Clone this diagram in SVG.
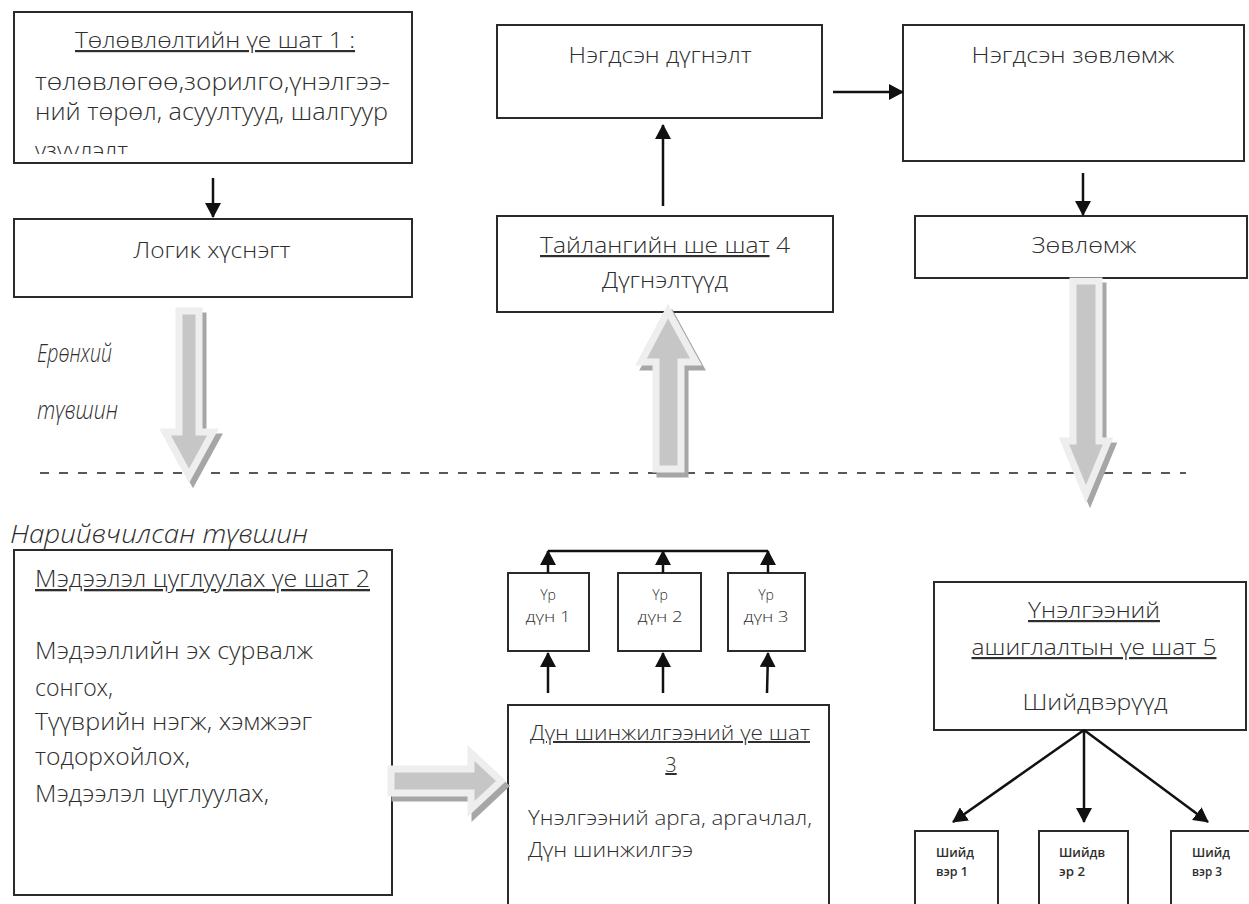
<svg xmlns="http://www.w3.org/2000/svg" width="1249" height="904" viewBox="0 0 1249 904">
<style>
text{font-family:"Open Sans","Noto Sans",sans-serif;fill:#2e2e2e;font-weight:300}
.box{fill:#fff;stroke:#2a2a2a;stroke-width:2}
.t22{font-size:22px}
.t23{font-size:23px}
.t20{font-size:20px}
.t14{font-size:14px}
.t13{font-size:13px;font-weight:600}
.it{font-size:25px;font-style:italic}
.u{text-decoration:underline}
.con{stroke:#111;stroke-width:2.5;fill:none}
.ar{marker-end:url(#ah)}
.blk{fill:#c6c6c6;stroke:#eeeeee;stroke-width:7;stroke-linejoin:miter}
.blkS{fill:#a6a6a6;stroke:#a6a6a6;stroke-width:7}
.dash{stroke:#222;stroke-width:1.5;stroke-dasharray:9 10}
</style>
<defs>
<marker id="ah" markerUnits="userSpaceOnUse" markerWidth="15" markerHeight="16" refX="14" refY="8" orient="auto">
<path d="M0,0 L15,8 L0,16 Z" fill="#111"/>
</marker>
<clipPath id="c1"><rect x="14" y="12" width="398" height="142"/></clipPath>
</defs>

<line class="dash" x1="40" y1="473" x2="1186" y2="473"/>

<g id="stage1">
<rect class="box" x="14" y="12" width="398" height="151"/>
<g clip-path="url(#c1)">
<text class="t22 u" x="215" y="48" text-anchor="middle" textLength="280" lengthAdjust="spacingAndGlyphs">Төлөвлөлтийн үе шат 1 :</text>
<text class="t23" x="35" y="90" textLength="355" lengthAdjust="spacingAndGlyphs">төлөвлөгөө,зорилго,үнэлгээ-</text>
<text class="t23" x="35" y="120" textLength="353" lengthAdjust="spacingAndGlyphs">ний төрөл, асуултууд, шалгуур</text>
<text class="t23" x="35" y="159" textLength="93" lengthAdjust="spacingAndGlyphs">үзүүлэлт</text>
</g>
</g>

<g id="logic">
<rect class="box" x="14" y="219" width="398" height="78"/>
<text class="t22" x="212" y="258" text-anchor="middle" textLength="157" lengthAdjust="spacingAndGlyphs">Логик хүснэгт</text>
</g>

<g id="summary">
<rect class="box" x="497" y="25" width="325" height="93"/>
<text class="t22" x="660" y="63" text-anchor="middle" textLength="183" lengthAdjust="spacingAndGlyphs">Нэгдсэн дүгнэлт</text>
</g>

<g id="stage4">
<rect class="box" x="497" y="216" width="336" height="96"/>
<text class="t22" x="540" y="253" textLength="250" lengthAdjust="spacingAndGlyphs"><tspan class="u">Тайлангийн ше шат</tspan> 4</text>
<text class="t22" x="665" y="288" text-anchor="middle" textLength="126" lengthAdjust="spacingAndGlyphs">Дүгнэлтүүд</text>
</g>

<g id="recsum">
<rect class="box" x="903" y="25" width="341" height="136"/>
<text class="t22" x="1073" y="63" text-anchor="middle" textLength="203" lengthAdjust="spacingAndGlyphs">Нэгдсэн зөвлөмж</text>
</g>

<g id="rec">
<rect class="box" x="915" y="216" width="332" height="62"/>
<text class="t22" x="1084" y="253" text-anchor="middle" textLength="105" lengthAdjust="spacingAndGlyphs">Зөвлөмж</text>
</g>

<g id="levels">
<text class="it" x="37" y="362" textLength="75" lengthAdjust="spacingAndGlyphs">Ерөнхий</text>
<text class="it" x="37" y="419" textLength="81" lengthAdjust="spacingAndGlyphs">түвшин</text>
<text class="it" x="10" y="543" textLength="298" lengthAdjust="spacingAndGlyphs">Нарийвчилсан түвшин</text>
</g>

<g id="stage2">
<rect class="box" x="14" y="550" width="378" height="345"/>
<text class="t23 u" x="35" y="587" textLength="335" lengthAdjust="spacingAndGlyphs">Мэдээлэл цуглуулах үе шат 2</text>
<text class="t23" x="35" y="659" textLength="278" lengthAdjust="spacingAndGlyphs">Мэдээллийн эх сурвалж</text>
<text class="t23" x="35" y="696" textLength="78" lengthAdjust="spacingAndGlyphs">сонгох,</text>
<text class="t23" x="35" y="730" textLength="277" lengthAdjust="spacingAndGlyphs">Түүврийн нэгж, хэмжээг</text>
<text class="t23" x="35" y="765" textLength="155" lengthAdjust="spacingAndGlyphs">тодорхойлох,</text>
<text class="t23" x="35" y="802" textLength="234" lengthAdjust="spacingAndGlyphs">Мэдээлэл цуглуулах,</text>
</g>

<g id="res1">
<rect class="box" x="508" y="573" width="81" height="78"/>
<text class="t14" x="548" y="600" text-anchor="middle">Үр</text>
<text class="t14" x="548" y="622" text-anchor="middle" textLength="45" lengthAdjust="spacingAndGlyphs">дүн 1</text>
</g>
<g id="res2">
<rect class="box" x="618" y="573" width="83" height="78"/>
<text class="t14" x="660" y="600" text-anchor="middle">Үр</text>
<text class="t14" x="660" y="622" text-anchor="middle" textLength="45" lengthAdjust="spacingAndGlyphs">дүн 2</text>
</g>
<g id="res3">
<rect class="box" x="728" y="573" width="77" height="78"/>
<text class="t14" x="766" y="600" text-anchor="middle">Үр</text>
<text class="t14" x="766" y="622" text-anchor="middle" textLength="45" lengthAdjust="spacingAndGlyphs">дүн 3</text>
</g>

<g id="stage3">
<rect class="box" x="508" y="705" width="321" height="215"/>
<text class="t20 u" x="670" y="740" text-anchor="middle" textLength="280" lengthAdjust="spacingAndGlyphs">Дүн шинжилгээний үе шат</text>
<text class="t20 u" x="671" y="772" text-anchor="middle">3</text>
<text class="t20" x="528" y="825" textLength="284" lengthAdjust="spacingAndGlyphs">Үнэлгээний арга, аргачлал,</text>
<text class="t20" x="528" y="857" textLength="165" lengthAdjust="spacingAndGlyphs">Дүн шинжилгээ</text>
</g>

<g id="stage5">
<rect class="box" x="934" y="582" width="312" height="148"/>
<text class="t22 u" x="1094" y="618" text-anchor="middle" textLength="132" lengthAdjust="spacingAndGlyphs">Үнэлгээний</text>
<text class="t22 u" x="1094" y="655" text-anchor="middle" textLength="245" lengthAdjust="spacingAndGlyphs">ашиглалтын үе шат 5</text>
<text class="t22" x="1095" y="710" text-anchor="middle" textLength="145" lengthAdjust="spacingAndGlyphs">Шийдвэрүүд</text>
</g>

<g id="dec1">
<rect class="box" x="915" y="831" width="83" height="90"/>
<text class="t13" x="936" y="857" textLength="38" lengthAdjust="spacingAndGlyphs">Шийд</text>
<text class="t13" x="936" y="876" textLength="32" lengthAdjust="spacingAndGlyphs">вэр 1</text>
</g>
<g id="dec2">
<rect class="box" x="1039" y="831" width="89" height="90"/>
<text class="t13" x="1059" y="857" textLength="46" lengthAdjust="spacingAndGlyphs">Шийдв</text>
<text class="t13" x="1059" y="876" textLength="26" lengthAdjust="spacingAndGlyphs">эр 2</text>
</g>
<g id="dec3">
<rect class="box" x="1171" y="831" width="90" height="90"/>
<text class="t13" x="1192" y="857" textLength="38" lengthAdjust="spacingAndGlyphs">Шийд</text>
<text class="t13" x="1192" y="876" textLength="30" lengthAdjust="spacingAndGlyphs">вэр 3</text>
</g>

<g id="connectors">
<line class="con ar" x1="213" y1="178" x2="213" y2="217"/>
<line class="con ar" x1="663" y1="206" x2="663" y2="125"/>
<line class="con ar" x1="833" y1="92" x2="903" y2="92"/>
<line class="con ar" x1="1083" y1="173" x2="1083" y2="215"/>
<line class="con" x1="548" y1="551" x2="768" y2="551"/>
<line class="con ar" x1="548" y1="573" x2="548" y2="551"/>
<line class="con ar" x1="663" y1="573" x2="663" y2="551"/>
<line class="con ar" x1="768" y1="573" x2="768" y2="551"/>
<line class="con ar" x1="548" y1="693" x2="548" y2="653"/>
<line class="con ar" x1="663" y1="693" x2="663" y2="653"/>
<line class="con ar" x1="767" y1="693" x2="768" y2="653"/>
<line class="con ar" x1="1084" y1="730" x2="953" y2="822"/>
<line class="con ar" x1="1084" y1="730" x2="1084" y2="822"/>
<line class="con ar" x1="1084" y1="730" x2="1208" y2="822"/>
<g id="blockArrows">
<path class="blkS" transform="translate(4,5)" d="M179,311 L199,311 L199,432 L213,432 L189,476 L165,432 L179,432 Z"/>
<path class="blk" d="M179,311 L199,311 L199,432 L213,432 L189,476 L165,432 L179,432 Z"/>
<path class="blkS" transform="translate(4,5)" d="M668,311 L696,362 L681,362 L681,469 L656,469 L656,362 L641,362 Z"/>
<path class="blk" d="M668,311 L696,362 L681,362 L681,469 L656,469 L656,362 L641,362 Z"/>
<path class="blkS" transform="translate(4,5)" d="M1073,281 L1099,281 L1099,441 L1108,441 L1086,494 L1064,441 L1073,441 Z"/>
<path class="blk" d="M1073,281 L1099,281 L1099,441 L1108,441 L1086,494 L1064,441 L1073,441 Z"/>
<path class="blkS" transform="translate(4,5)" d="M391,769 L471,769 L471,753 L501,781 L471,809 L471,793 L391,793 Z"/>
<path class="blk" d="M391,769 L471,769 L471,753 L501,781 L471,809 L471,793 L391,793 Z"/>
</g>
</g>
</svg>
